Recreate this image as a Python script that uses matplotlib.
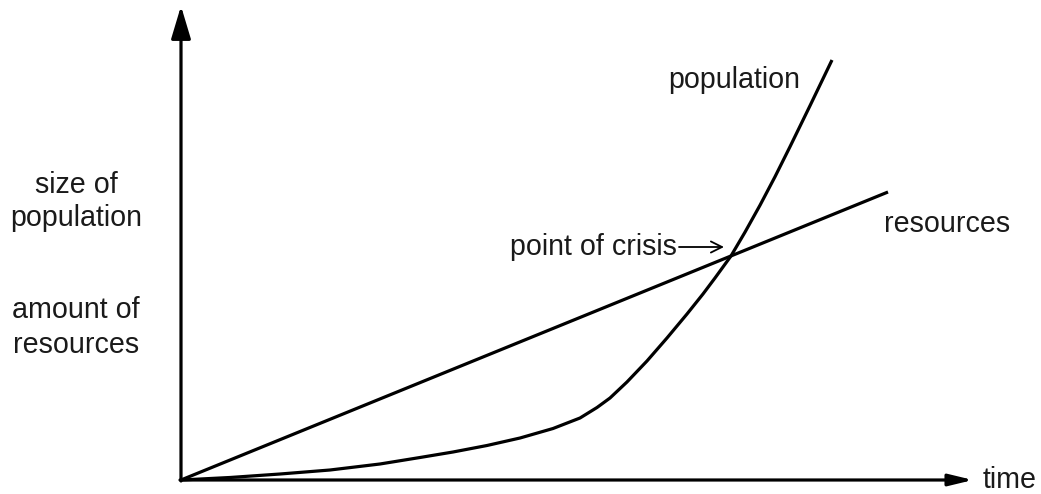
"""Population vs resources sketch (Malthusian point of crisis)."""

import matplotlib
matplotlib.use("Agg")
import matplotlib.pyplot as plt

plt.rcParams["font.family"] = ["Liberation Sans", "DejaVu Sans"]

# --- data (arbitrary units: resources line runs 0..100 on both axes) ---
res_time = [0, 100]
res_amount = [0, 100]

pop_time = [0, 6.93, 14.00, 21.07, 28.15, 33.80, 38.47, 43.28, 47.95,
            52.62, 56.44, 58.84, 60.68, 63.08, 65.91, 68.74, 71.57, 73.83,
            75.53, 77.79, 79.77, 81.90, 84.02, 86.14, 88.97, 92.08]
pop_size = [0, 0.87, 2.08, 3.47, 5.56, 7.81, 9.72, 11.98, 14.58,
            17.88, 21.53, 25.17, 28.47, 34.03, 41.32, 49.31, 57.64, 64.58,
            70.14, 77.78, 86.04, 95.42, 105.31, 115.73, 129.97, 145.83]

W, H = 1041, 494
FS = 20.6
LW = 2.3


def fx(px):
    return px / W


def fy(py):
    return 1 - py / H


def main() -> None:
    fig = plt.figure(figsize=(W / 100, H / 100), dpi=100, facecolor="white")
    ax = fig.add_axes([0, 0, 1, 1])
    ax.set_axis_off()
    # origin of the sketch sits at pixel (181, 480)
    ax.set_xlim(-181 / 7.07, (W - 181) / 7.07)
    ax.set_ylim((480 - H) / 2.88, 480 / 2.88)

    ax.plot(res_time, res_amount, color="black", lw=LW, solid_capstyle="butt")
    ax.plot(pop_time, pop_size, color="black", lw=LW, solid_capstyle="butt",
            solid_joinstyle="round")

    # axes with arrow heads
    ax.annotate("", xy=(fx(181), fy(6)), xytext=(fx(181), fy(481)),
                xycoords="figure fraction", textcoords="figure fraction",
                arrowprops=dict(arrowstyle="-|>,head_length=2.0,head_width=0.6",
                                mutation_scale=10, lw=LW, color="black",
                                shrinkA=0, shrinkB=0))
    ax.annotate("", xy=(fx(973), fy(480)), xytext=(fx(180), fy(480)),
                xycoords="figure fraction", textcoords="figure fraction",
                arrowprops=dict(arrowstyle="-|>,head_length=1.45,head_width=0.35",
                                mutation_scale=10, lw=LW, color="black",
                                shrinkA=0, shrinkB=0))

    # labels
    tk = dict(fontsize=FS, color="#1a1a1a", va="baseline")
    fig.text(fx(76), fy(193), "size of", ha="center", **tk)
    fig.text(fx(76), fy(226), "population", ha="center", **tk)
    fig.text(fx(76), fy(318), "amount of", ha="center", **tk)
    fig.text(fx(76), fy(353), "resources", ha="center", **tk)
    fig.text(fx(668), fy(88), "population", ha="left", **tk)
    fig.text(fx(884), fy(232), "resources", ha="left", **tk)
    fig.text(fx(983), fy(488), "time", ha="left", **tk)
    fig.text(fx(677), fy(255), "point of crisis", ha="right", **tk)

    ax.annotate("", xy=(fx(724), fy(247)), xytext=(fx(679), fy(247)),
                xycoords="figure fraction", textcoords="figure fraction",
                arrowprops=dict(arrowstyle="->,head_length=0.8,head_width=0.4",
                                mutation_scale=10, lw=1.3, color="black",
                                shrinkA=0, shrinkB=0))

    fig.savefig("out.png", dpi=100, facecolor="white")
    plt.close(fig)


if __name__ == "__main__":
    main()
